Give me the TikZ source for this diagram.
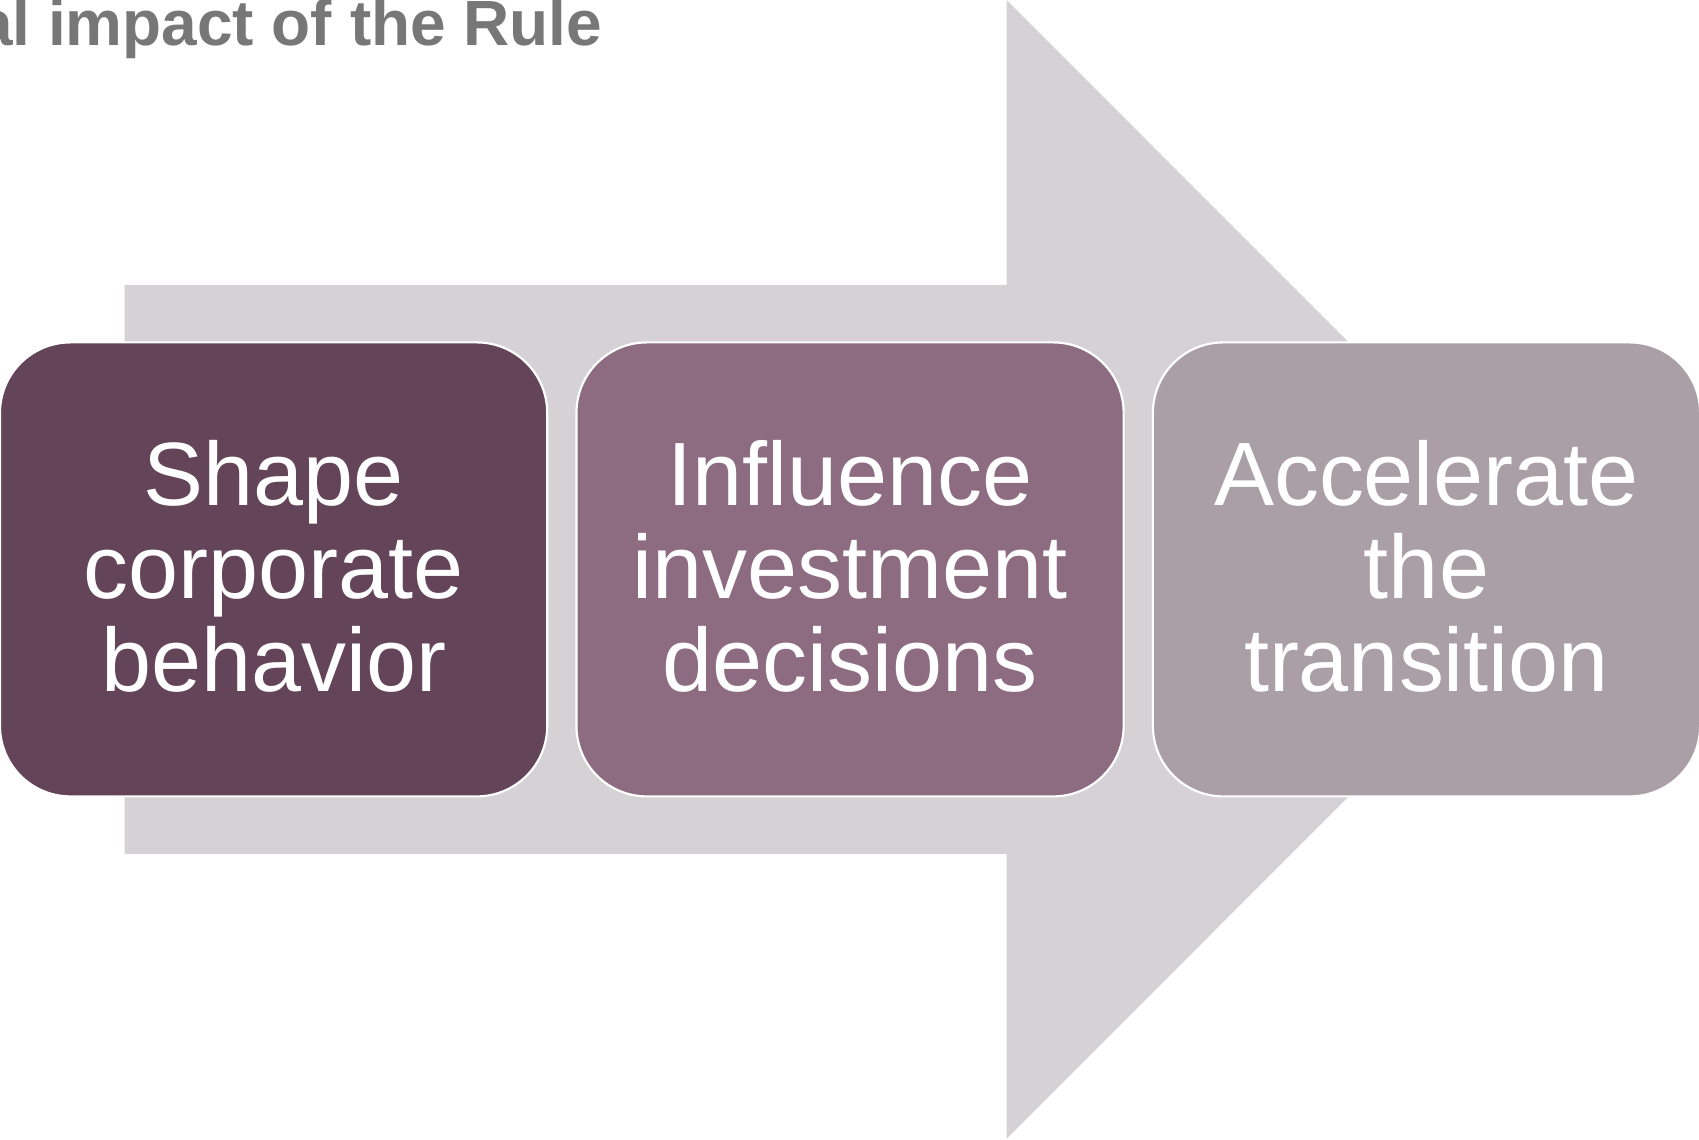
\documentclass[tikz,border=0pt]{standalone}
\usepackage{fontspec}
\setmainfont{Liberation Sans}
\definecolor{arrowgrey}{HTML}{D5D1D4}
\definecolor{boxA}{HTML}{644458}
\definecolor{boxB}{HTML}{8D6C81}
\definecolor{boxC}{HTML}{AB9FA6}
\definecolor{titlegrey}{HTML}{777777}
\tikzset{
  stagebox/.style={rectangle, rounded corners=65pt, draw=white, line width=2pt,
    minimum width=505pt, minimum height=419pt, inner sep=0pt},
  stagetext/.style={text=white, align=center, inner sep=0pt,
    font=\fontsize{83}{86}\selectfont},
  titletext/.style={text=titlegrey, inner sep=0pt, anchor=base east,
    font=\fontsize{59}{61}\selectfont\bfseries}
}
\begin{document}
\begin{tikzpicture}[x=1pt,y=-1pt]
\useasboundingbox (0,0) rectangle (1568,1051.2);
\clip (0,0) rectangle (1568,1051.2);
% big background arrow
\coordinate (a1) at (115,263);
\coordinate (a2) at (929,263);
\coordinate (a3) at (929,0);
\coordinate (a4) at (1454,525.5);
\coordinate (a5) at (929,1051);
\coordinate (a6) at (929,788);
\coordinate (a7) at (115,788);
\fill[arrowgrey] (a1) -- (a2) -- (a3) -- (a4) -- (a5) -- (a6) -- (a7) -- cycle;
% title
\node[titletext] (title) at (556,42) {al impact of the Rule};
% stage boxes
\node[stagebox, fill=boxA] (b1) at (252.5,525.5) {};
\node[stagebox, fill=boxB] (b2) at (784.5,525.5) {};
\node[stagebox, fill=boxC] (b3) at (1316.5,525.5) {};
\node[stagetext] (t1) at ([yshift=3pt]b1.center) {Shape\\corporate\\behavior};
\node[stagetext] (t2) at ([yshift=3pt]b2.center) {Influence\\investment\\decisions};
\node[stagetext] (t3) at ([yshift=3pt]b3.center) {Accelerate\\the\\transition};
\end{tikzpicture}
\end{document}
